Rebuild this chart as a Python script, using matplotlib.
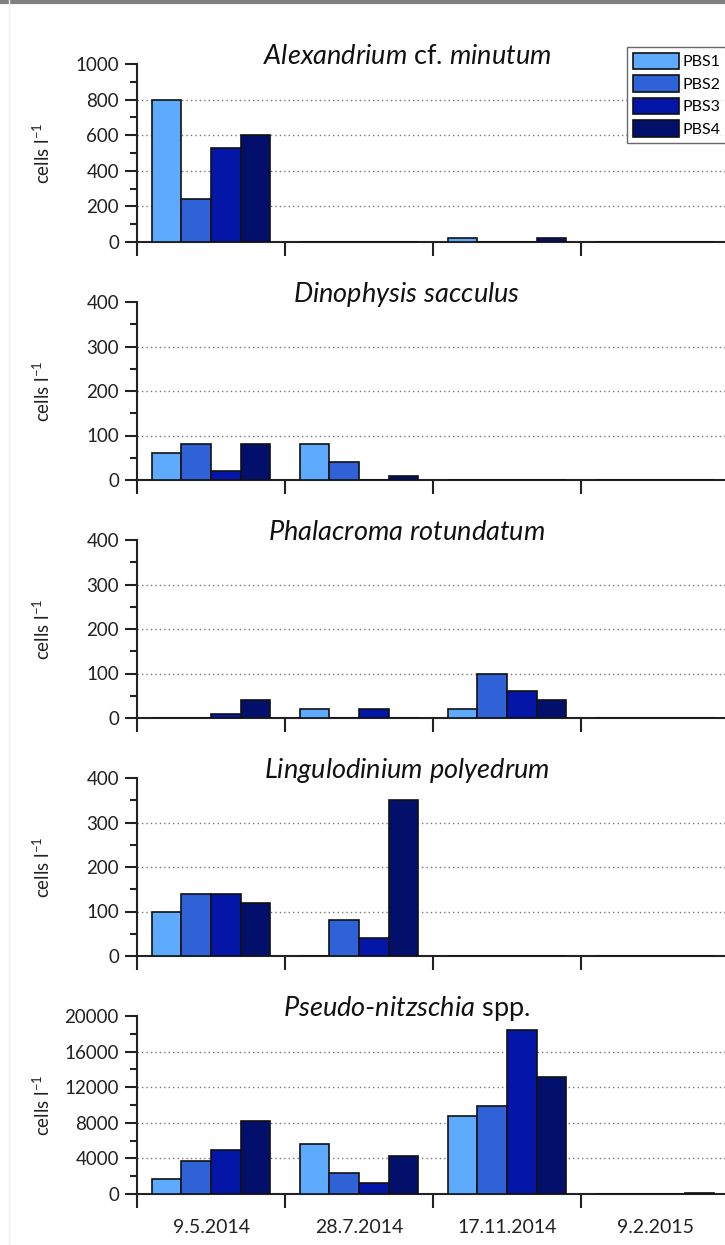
import numpy as np
import matplotlib.pyplot as plt
from matplotlib.lines import Line2D

plt.rcParams['font.family'] = ['Lato', 'DejaVu Sans']

dates = ['9.5.2014', '28.7.2014', '17.11.2014', '9.2.2015']
stations = ['PBS1', 'PBS2', 'PBS3', 'PBS4']
colors = ['#5eaaff', '#2f62d6', '#0316a8', '#03106b']

# cells per litre, rows = stations, columns = sampling dates
alexandrium = [[800, 0, 20, 0],
               [240, 0, 0, 0],
               [530, 0, 0, 0],
               [600, 0, 20, 0]]
dinophysis = [[60, 80, 0, 0],
              [80, 40, 0, 0],
              [20, 0, 0, 0],
              [80, 10, 0, 0]]
phalacroma = [[0, 20, 20, 0],
              [0, 0, 100, 0],
              [10, 20, 60, 0],
              [40, 0, 40, 0]]
lingulodinium = [[100, 0, 0, 0],
                 [140, 80, 0, 0],
                 [140, 40, 0, 0],
                 [120, 350, 0, 0]]
pseudonitzschia = [[1700, 5600, 8800, 0],
                   [3700, 2400, 9900, 0],
                   [4900, 1200, 18400, 0],
                   [8200, 4300, 13200, 150]]

panels = [
    (r'$\it{Alexandrium}$ cf. $\it{minutum}$', alexandrium, 1000, 200),
    (r'$\it{Dinophysis\ sacculus}$', dinophysis, 400, 100),
    (r'$\it{Phalacroma\ rotundatum}$', phalacroma, 400, 100),
    (r'$\it{Lingulodinium\ polyedrum}$', lingulodinium, 400, 100),
    (r'$\it{Pseudo}$-$\it{nitzschia}$ spp.', pseudonitzschia, 20000, 4000),
]

plt.rcParams['mathtext.fontset'] = 'custom'
plt.rcParams['mathtext.it'] = 'Lato:italic'
plt.rcParams['mathtext.rm'] = 'Lato'

W, H = 725, 1245
fig = plt.figure(figsize=(W / 100, H / 100), dpi=100)

left, right = 137, 729
bw = 0.2
x = np.arange(len(dates)) + 0.5
axes = []
for i, (title, data, top, step) in enumerate(panels):
    y0 = 242 + i * 238
    ax = fig.add_axes([left / W, 1 - y0 / H, (right - left) / W, 178 / H])
    axes.append(ax)
    for k in range(4):
        ax.bar(x + (k - 1.5) * bw, data[k], bw, color=colors[k],
               edgecolor='#111111', linewidth=1.2, label=stations[k], zorder=3)
    for v in np.arange(step, top, step):
        ax.axhline(v, color='#777777', linestyle=(0, (1, 2.2)), linewidth=1.0, zorder=1)
    ax.set_xlim(0, 4)
    ax.set_ylim(0, top)
    ax.set_yticks(np.arange(0, top + 1, step))
    ax.set_yticks(np.arange(step / 2, top, step), minor=True)
    ax.set_xticks(np.arange(0, 5))
    ax.set_xticklabels([])
    ax.set_xticks(x, minor=True)
    if i == 4:
        ax.set_xticklabels(dates, minor=True, fontsize=14, color='#222222')
    ax.tick_params(axis='x', which='major', direction='out', length=10, width=1.5, color='#222222')
    ax.tick_params(axis='x', which='minor', length=0, pad=18)
    ax.tick_params(axis='y', which='major', direction='out', length=9, width=1.5,
                   labelsize=13.5, color='#222222', labelcolor='#222222', pad=4)
    ax.tick_params(axis='y', which='minor', direction='out', length=5, width=1.5, color='#222222')
    for s in ['top', 'right']:
        ax.spines[s].set_visible(False)
    for s in ['left', 'bottom']:
        ax.spines[s].set_linewidth(1.5)
        ax.spines[s].set_color('#222222')
    ax.set_ylabel(r'cells l$^{\mathregular{-1}}$', fontsize=13.5, color='#222222')
    ax.yaxis.set_label_coords((53 - left) / (right - left), 0.5)
    ax.text((407 - left) / (right - left), 1.04, title, transform=ax.transAxes,
            ha='center', va='center', fontsize=19.5, color='#111111')

axes[0].legend(loc='upper left', bbox_to_anchor=(627 / W, 1 - 47 / H),
               bbox_transform=fig.transFigure, fontsize=11.5, frameon=True,
               fancybox=False, edgecolor='#444444', handlelength=2.9, handleheight=1.25,
               handletextpad=0.2, labelspacing=0.35, borderpad=0.35, borderaxespad=0)

# grey frame edges
fig.add_artist(Line2D([0, 1], [1 - 1.5 / H, 1 - 1.5 / H], color='#808080', linewidth=3,
                      transform=fig.transFigure))
fig.add_artist(Line2D([9 / W, 9 / W], [0, 1], color='#f0f0f0', linewidth=1,
                      transform=fig.transFigure))

fig.savefig('out.png', dpi=100)
